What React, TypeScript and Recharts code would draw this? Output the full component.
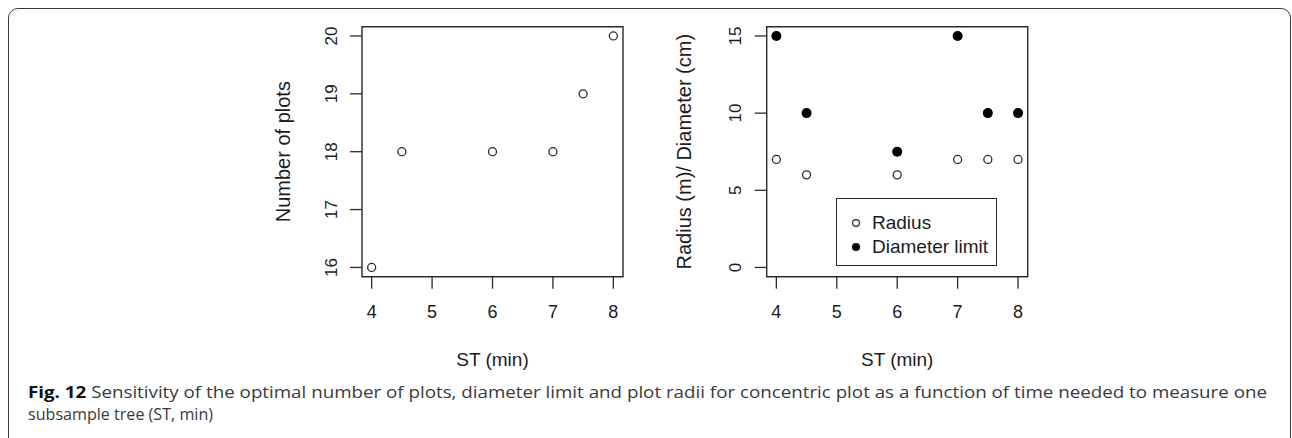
import { ScatterChart, Scatter, XAxis, YAxis, ReferenceArea, Legend, Label } from 'recharts';

// ST (min) values shared by both panels
const stTimes = [4, 4.5, 6, 7, 7.5, 8];
const plotCounts = [16, 18, 18, 18, 19, 20];
const radiusM = [7, 6, 6, 7, 7, 7];
const diameterLimitCm = [15, 10, 7.5, 15, 10, 10];

const stTicks = [4, 5, 6, 7, 8];
const plotTicks = [16, 17, 18, 19, 20];
const sizeTicks = [0, 5, 10, 15];

const INK = '#2a2a2a';
const FONT = '"Liberation Sans", Arial, sans-serif';
const CAPTION_FONT = '"Open Sans", "Noto Sans", sans-serif';

// R-style axis range: data range padded by 4% on each side
const padRange = (lo: number, hi: number): [number, number] => {
  const d = (hi - lo) * 0.04;
  return [lo - d, hi + d];
};

const xDomain = padRange(4, 8);
const plotsDomain = padRange(16, 20);
const sizeDomain = padRange(0, 15);

const plotsData = stTimes.map((st, i) => ({ st, value: plotCounts[i] }));
const radiusData = stTimes.map((st, i) => ({ st, value: radiusM[i] }));
const diameterData = stTimes.map((st, i) => ({ st, value: diameterLimitCm[i] }));

const openDot = (p: any) => (
  <circle cx={p.cx} cy={p.cy} r={4} fill="#fff" stroke={INK} strokeWidth={1.3} />
);
const filledDot = (p: any) => <circle cx={p.cx} cy={p.cy} r={5} fill="#000" />;

const xTick = (p: any) => (
  <text x={p.x} y={p.y + 29.6} textAnchor="middle" fontSize={18} fontFamily={FONT} fill="#1c1c1c">
    {p.payload.value}
  </text>
);

// tick labels run parallel to the axis, as in base R graphics
const yTick = (p: any) => (
  <text
    transform={`translate(${p.x - 13.5},${p.y}) rotate(-90)`}
    textAnchor="middle"
    fontSize={17}
    fontFamily={FONT}
    fill="#1c1c1c"
  >
    {p.payload.value}
  </text>
);

const Y_AXIS_W = 60;
const X_AXIS_H = 30;
const CHART_H = 380;
const PLOT_TOP = 26.7;
const PLOT_BOTTOM = 276.7;

type PanelProps = {
  width: number;
  plotLeft: number;
  plotRight: number;
  yTitleOffset: number;
  yTitle: string;
  yDomain: [number, number];
  yTicks: number[];
  children: React.ReactNode;
};

function Panel({ width, plotLeft, plotRight, yTitleOffset, yTitle, yDomain, yTicks, children }: PanelProps) {
  const midX = (plotLeft + plotRight) / 2;
  const midY = (PLOT_TOP + PLOT_BOTTOM) / 2;
  return (
    <ScatterChart
      width={width}
      height={CHART_H}
      margin={{
        top: PLOT_TOP,
        right: width - plotRight,
        bottom: CHART_H - PLOT_BOTTOM - X_AXIS_H,
        left: plotLeft - Y_AXIS_W,
      }}
    >
      <XAxis
        type="number"
        dataKey="st"
        domain={xDomain}
        ticks={stTicks}
        allowDataOverflow
        axisLine={false}
        tickSize={12}
        tickMargin={0}
        tickLine={{ stroke: INK, strokeWidth: 1.3 }}
        tick={xTick}
        height={X_AXIS_H}
      >
        <Label
          content={() => (
            <text x={midX} y={365.7} textAnchor="middle" fontSize={19} fontFamily={FONT} fill="#1c1c1c">
              ST (min)
            </text>
          )}
        />
      </XAxis>
      <YAxis
        type="number"
        dataKey="value"
        domain={yDomain}
        ticks={yTicks}
        allowDataOverflow
        axisLine={false}
        tickSize={12}
        tickMargin={0}
        tickLine={{ stroke: INK, strokeWidth: 1.3 }}
        tick={yTick}
        width={Y_AXIS_W}
      >
        <Label
          content={() => (
            <text
              transform={`translate(${plotLeft - yTitleOffset},${midY}) rotate(-90)`}
              textAnchor="middle"
              fontSize={20}
              fontFamily={FONT}
              fill="#1c1c1c"
            >
              {yTitle}
            </text>
          )}
        />
      </YAxis>
      <ReferenceArea
        x1={xDomain[0]}
        x2={xDomain[1]}
        y1={yDomain[0]}
        y2={yDomain[1]}
        fill="none"
        stroke={INK}
        strokeWidth={1.4}
        ifOverflow="visible"
      />
      {children}
    </ScatterChart>
  );
}

const legendItems = [
  { label: 'Radius', filled: false },
  { label: 'Diameter limit', filled: true },
];

const renderLegend = () => (
  <div
    style={{
      position: 'relative',
      width: 161,
      height: 68,
      boxSizing: 'border-box',
      border: `1.4px solid ${INK}`,
      background: '#fff',
      fontFamily: FONT,
      fontSize: 19,
      color: '#1c1c1c',
    }}
  >
    {legendItems.map((item, i) => (
      <div
        key={item.label}
        style={{ position: 'absolute', left: 12, top: 13 + i * 23.7, height: 22, display: 'flex', alignItems: 'center' }}
      >
        <svg width={14} height={14} style={{ marginRight: 9 }}>
          {item.filled ? (
            <circle cx={7} cy={7} r={4} fill="#000" />
          ) : (
            <circle cx={7} cy={7} r={3.4} fill="#fff" stroke={INK} strokeWidth={1.2} />
          )}
        </svg>
        <span style={{ whiteSpace: 'nowrap', lineHeight: '22px' }}>{item.label}</span>
      </div>
    ))}
  </div>
);

export default function App() {
  return (
    <div
      style={{
        position: 'absolute',
        left: 0,
        top: 0,
        width: 1292,
        height: 438,
        overflow: 'hidden',
        background: '#fff',
      }}
    >
      <div
        style={{
          position: 'absolute',
          left: 8,
          top: 7.5,
          width: 1283,
          height: 470,
          boxSizing: 'border-box',
          border: '1.5px solid #3a3a3a',
          borderRadius: 10,
        }}
      />

      <div style={{ position: 'absolute', left: 0, top: 0 }}>
        <Panel
          width={640}
          plotLeft={362}
          plotRight={623}
          yTitleOffset={72}
          yTitle="Number of plots"
          yDomain={plotsDomain}
          yTicks={plotTicks}
        >
          <Scatter data={plotsData} shape={openDot} isAnimationActive={false} />
        </Panel>
      </div>

      <div style={{ position: 'absolute', left: 640, top: 0 }}>
        <Panel
          width={652}
          plotLeft={126.7}
          plotRight={387.7}
          yTitleOffset={76}
          yTitle="Radius (m)/ Diameter (cm)"
          yDomain={sizeDomain}
          yTicks={sizeTicks}
        >
          <Scatter name="Radius" data={radiusData} shape={openDot} isAnimationActive={false} />
          <Scatter name="Diameter limit" data={diameterData} shape={filledDot} isAnimationActive={false} />
          <Legend
            layout="vertical"
            align="center"
            verticalAlign="middle"
            content={renderLegend}
            wrapperStyle={{ left: 196, top: 198.3, width: 161, height: 68 }}
          />
        </Panel>
      </div>

      <svg width={1292} height={60} style={{ position: 'absolute', left: 0, top: 378 }}>
        <text
          x={28}
          y={20}
          textLength={1239}
          lengthAdjust="spacingAndGlyphs"
          fontFamily={CAPTION_FONT}
          fontSize={16.5}
          fill="#3a3a3a"
        >
          <tspan fontWeight="bold" fill="#111">Fig. 12</tspan>
          <tspan> Sensitivity of the optimal number of plots, diameter limit and plot radii for concentric plot as a function of time needed to measure one</tspan>
        </text>
        <text
          x={28}
          y={42}
          textLength={185}
          lengthAdjust="spacingAndGlyphs"
          fontFamily={CAPTION_FONT}
          fontSize={16.5}
          fill="#3a3a3a"
        >
          subsample tree (ST, min)
        </text>
      </svg>
    </div>
  );
}
